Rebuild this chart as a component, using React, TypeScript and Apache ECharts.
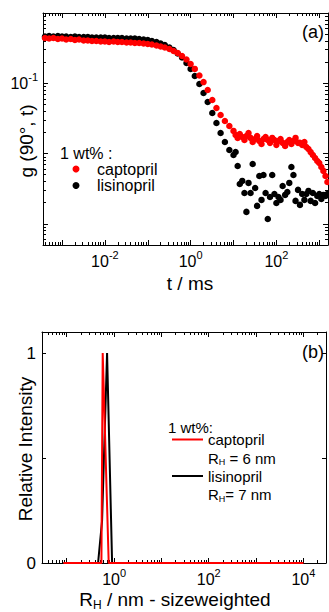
import React, { useEffect, useRef } from "react";
import * as echarts from "echarts";

// ---------- panel (a): correlation functions ----------
const lagTimes = [
  4e-4, 5e-4, 6.3e-4, 8e-4,
  1e-3, 1.25e-3, 1.6e-3, 2e-3, 2.5e-3, 3.2e-3, 4e-3, 5e-3, 6.3e-3, 8e-3,
  0.01, 0.0125, 0.016, 0.02, 0.025, 0.032, 0.04, 0.05, 0.063, 0.08,
  0.1, 0.125, 0.16, 0.2, 0.25, 0.32, 0.4, 0.5, 0.63, 0.8,
  1, 1.25, 1.6, 2, 2.5, 3.2, 4, 5, 6.3, 8,
  10, 11.2, 12.5, 14, 16, 18, 20, 22.4, 25, 28,
  32, 35.5, 40, 45, 50, 56, 63, 71, 80, 90,
  100, 112, 125, 140, 160, 180, 200, 224, 250, 280,
  320, 355, 400, 450, 500, 560, 630, 710, 800, 900,
  1000, 1120, 1250, 1400, 1550,
];
const gCaptopril = [
  0.441, 0.434, 0.441, 0.427,
  0.434, 0.42, 0.427, 0.413, 0.42, 0.406, 0.406, 0.4, 0.4, 0.393,
  0.393, 0.387, 0.393, 0.387, 0.387, 0.38, 0.38, 0.374, 0.374, 0.368,
  0.362, 0.356, 0.345, 0.334, 0.323, 0.3075, 0.288, 0.27, 0.2445, 0.218,
  0.188, 0.16, 0.129, 0.104, 0.0803, 0.0579, 0.0445, 0.0354, 0.0291, 0.0247,
  0.021, 0.0184, 0.0167, 0.019, 0.0172, 0.0156, 0.0178, 0.0196, 0.0167, 0.0146,
  0.0161, 0.0178, 0.0151, 0.0137, 0.0161, 0.0172, 0.0156, 0.0142, 0.0167, 0.0156,
  0.0133, 0.0151, 0.0161, 0.0142, 0.0128, 0.0146, 0.0156, 0.0137, 0.0151, 0.0167,
  0.0142, 0.0142, 0.0133, 0.0146, 0.0124, 0.0116, 0.0105, 0.00955, 0.00866, 0.00785,
  0.00735, 0.00645, 0.00566, 0.0048, 0.00394,
];
const gLisinopril = [
  0.463, 0.471, 0.463, 0.471,
  0.463, 0.463, 0.456, 0.463, 0.456, 0.456, 0.456, 0.448, 0.448, 0.448,
  0.448, 0.441, 0.441, 0.441, 0.441, 0.434, 0.434, 0.434, 0.427, 0.42,
  0.413, 0.4, 0.387, 0.368, 0.351, 0.323, 0.298, 0.265, 0.233, 0.194,
  0.16, 0.127, 0.0977, 0.0728, 0.0542, 0.0378, 0.0272, 0.0196, 0.0146, 0.01125,
  0.00955, 0.01054, 0.00666, 0.00369, 0.00408, 0.00275, 0.00148, 0.00382, 0.00275, 0.00711,
  0.00324, 0.0018, 0.0048, 0.00219, 0.00496, 0.00275, 0.00117, 0.00241, 0.00496, 0.00266,
  0.00198, 0.00241, 0.00219, 0.00346, 0.00258, 0.00284, 0.00382, 0.00645, 0.00496, 0.00212,
  0.00304, 0.00186, 0.00266, 0.00219, 0.00266, 0.00294, 0.00212, 0.00275, 0.00198, 0.00249,
  0.00266, 0.00226, 0.00258, 0.00249, 0.00266,
];
const tRange = [3.6e-4, 1600];
const gRange = [5e-4, 1];
const tLabelExponents = [-2, 0, 2];
const gLabelExponents = [-1];

// ---------- panel (b): size distributions ----------
const radiusCaptopril = [0.085, 0.54, 0.575, 0.77, 10000];
const intensityCaptopril = [0, 0, 1, 0, 0];
const radiusLisinopril = [0.085, 0.459, 0.557, 0.711, 0.908, 10000];
const intensityLisinopril = [0, 0, 0.2, 1, 0, 0];
const rRange = [0.03, 30000];
const iRange = [0, 1.1];
const rLabelExponents = [0, 2, 4];
const iTickValues = [0, 0.5, 1];
const iLabelValues = [0, 1];

const FONT = "'Liberation Sans', Arial, sans-serif";
const RED = "#ff0000";
const BLACK = "#000000";

function majorLogs(lo: number, hi: number) {
  const out: number[] = [];
  for (let n = Math.ceil(lo - 1e-9); n <= Math.floor(hi + 1e-9); n++) out.push(n);
  return out;
}
function minorLogs(lo: number, hi: number) {
  const out: number[] = [];
  for (let n = Math.floor(lo) - 1; n <= Math.ceil(hi); n++) {
    for (let k = 2; k <= 9; k++) {
      const v = n + Math.log10(k);
      if (v > lo && v < hi) out.push(v);
    }
  }
  return out;
}

const supRich = {
  b: { fontSize: 16, lineHeight: 24, verticalAlign: "middle", fontFamily: FONT, color: BLACK },
  s: { fontSize: 11, verticalAlign: "top", fontFamily: FONT, color: BLACK },
};
const supFormatter = (v: number) => `{b|10}{s|${Math.round(v)}}`;

function tickAxis(o: {
  gridIndex: number;
  position: string;
  min: number;
  max: number;
  ticks: number[];
  length: number;
  line?: boolean;
  labels?: number[];
  formatter?: any;
  rich?: any;
  margin?: number;
  fontSize?: number;
}) {
  return {
    type: "value",
    gridIndex: o.gridIndex,
    position: o.position,
    min: o.min,
    max: o.max,
    axisLine: { show: !!o.line, onZero: false, lineStyle: { color: BLACK, width: 1 } },
    axisTick: {
      show: true,
      inside: true,
      length: o.length,
      customValues: o.ticks,
      lineStyle: { color: BLACK, width: 1 },
    },
    axisLabel: o.labels
      ? {
          show: true,
          customValues: o.labels,
          formatter: o.formatter,
          rich: o.rich,
          margin: o.margin ?? 5,
          color: BLACK,
          fontSize: o.fontSize ?? 16,
          fontFamily: FONT,
        }
      : { show: false },
    splitLine: { show: false },
    minorTick: { show: false },
  };
}

export default function App() {
  const ref = useRef<HTMLDivElement>(null);

  useEffect(() => {
    if (!ref.current) return;
    const chart = echarts.init(ref.current, undefined, { renderer: "svg" });

    const ta = [Math.log10(tRange[0]), Math.log10(tRange[1])];
    const ga = [Math.log10(gRange[0]), Math.log10(gRange[1])];
    const rb = [Math.log10(rRange[0]), Math.log10(rRange[1])];

    const gridA = { left: 43, top: 13, width: 285, height: 232 };
    const gridB = { left: 42, top: 332, width: 284, height: 231 };

    const xAxis: any[] = [
      // 0: data axis A
      { type: "log", gridIndex: 0, min: tRange[0], max: tRange[1], show: false, logBase: 10 },
      tickAxis({ gridIndex: 0, position: "bottom", min: ta[0], max: ta[1], ticks: majorLogs(ta[0], ta[1]), length: 5, line: true, labels: tLabelExponents, formatter: supFormatter, rich: supRich, margin: 4 }),
      tickAxis({ gridIndex: 0, position: "bottom", min: ta[0], max: ta[1], ticks: minorLogs(ta[0], ta[1]), length: 3 }),
      tickAxis({ gridIndex: 0, position: "top", min: ta[0], max: ta[1], ticks: majorLogs(ta[0], ta[1]), length: 5, line: true }),
      tickAxis({ gridIndex: 0, position: "top", min: ta[0], max: ta[1], ticks: minorLogs(ta[0], ta[1]), length: 3 }),
      // 5: data axis B
      { type: "log", gridIndex: 1, min: rRange[0], max: rRange[1], show: false, logBase: 10 },
      tickAxis({ gridIndex: 1, position: "bottom", min: rb[0], max: rb[1], ticks: majorLogs(rb[0], rb[1]), length: 5, line: true, labels: rLabelExponents, formatter: supFormatter, rich: supRich, margin: 4 }),
      tickAxis({ gridIndex: 1, position: "bottom", min: rb[0], max: rb[1], ticks: minorLogs(rb[0], rb[1]), length: 3 }),
      tickAxis({ gridIndex: 1, position: "top", min: rb[0], max: rb[1], ticks: majorLogs(rb[0], rb[1]), length: 5, line: true }),
      tickAxis({ gridIndex: 1, position: "top", min: rb[0], max: rb[1], ticks: minorLogs(rb[0], rb[1]), length: 3 }),
    ];

    const yAxis: any[] = [
      // 0: data axis A
      { type: "log", gridIndex: 0, min: gRange[0], max: gRange[1], show: false, logBase: 10 },
      tickAxis({ gridIndex: 0, position: "left", min: ga[0], max: ga[1], ticks: majorLogs(ga[0], ga[1]), length: 5, line: true, labels: gLabelExponents, formatter: supFormatter, rich: supRich, margin: 5 }),
      tickAxis({ gridIndex: 0, position: "left", min: ga[0], max: ga[1], ticks: minorLogs(ga[0], ga[1]), length: 3 }),
      tickAxis({ gridIndex: 0, position: "right", min: ga[0], max: ga[1], ticks: majorLogs(ga[0], ga[1]), length: 5, line: true }),
      tickAxis({ gridIndex: 0, position: "right", min: ga[0], max: ga[1], ticks: minorLogs(ga[0], ga[1]), length: 3 }),
      // 5: data axis B (linear, visible)
      tickAxis({ gridIndex: 1, position: "left", min: iRange[0], max: iRange[1], ticks: iTickValues, length: 4, line: true, labels: iLabelValues, formatter: (v: number) => String(v), margin: 6, fontSize: 17 }),
      tickAxis({ gridIndex: 1, position: "right", min: iRange[0], max: iRange[1], ticks: iTickValues, length: 4, line: true }),
    ];

    const scatterA = (name: string, g: number[], color: string) => ({
      name,
      type: "scatter",
      xAxisIndex: 0,
      yAxisIndex: 0,
      symbol: "circle",
      symbolSize: 6.5,
      itemStyle: { color, opacity: 1 },
      data: lagTimes.map((t, i) => [t, g[i]]),
    });
    const lineB = (name: string, r: number[], inten: number[], color: string) => ({
      name,
      type: "line",
      xAxisIndex: 5,
      yAxisIndex: 5,
      symbol: "none",
      showSymbol: false,
      lineStyle: { color, width: 2 },
      itemStyle: { color },
      data: r.map((v, i) => [v, inten[i]]),
    });

    const txt = (x: number, y: number, text: string, fontSize: number, extra: any = {}) => ({
      type: "text",
      x,
      y,
      ...extra,
      style: {
        text,
        fontSize,
        fontFamily: FONT,
        fill: BLACK,
        align: extra.align ?? "left",
        verticalAlign: "middle",
        lineHeight: fontSize + 1,
        ...(extra.style || {}),
      },
    });

    const subRich = (size: number, lh: number) => ({
      r: { fontSize: size, fontFamily: FONT, fill: BLACK, lineHeight: lh, verticalAlign: "middle" },
      h: { fontSize: Math.round(size * 0.62), fontFamily: FONT, fill: BLACK, verticalAlign: "bottom" },
    });

    const option: any = {
      animation: false,
      textStyle: { fontFamily: FONT },
      grid: [
        { ...gridA, containLabel: false },
        { ...gridB, containLabel: false },
      ],
      xAxis,
      yAxis,
      series: [
        scatterA("lisinopril", gLisinopril, BLACK),
        scatterA("captopril", gCaptopril, RED),
        lineB("lisinopril size distribution", radiusLisinopril, intensityLisinopril, BLACK),
        lineB("captopril size distribution", radiusCaptopril, intensityCaptopril, RED),
      ],
      graphic: [
        txt(313, 32, "(a)", 18, { align: "center" }),
        txt(313, 352, "(b)", 18, { align: "center" }),
        txt(190, 283, "t / ms", 19, { align: "center" }),
        txt(26, 141, "g (90°, t)", 19, { align: "center", rotation: Math.PI / 2 }),
        txt(25.5, 449, "Relative Intensity", 19, { align: "center", rotation: Math.PI / 2 }),
        {
          type: "text",
          x: 175,
          y: 599,
          style: {
            text: "{r|R}{h|H}{r| / nm - sizeweighted}",
            rich: subRich(19, 24),
            align: "center",
            verticalAlign: "middle",
            fontFamily: FONT,
          },
        },
        // legend (a)
        txt(60, 153, "1 wt% :", 16),
        { type: "circle", shape: { cx: 76, cy: 169, r: 3.5 }, style: { fill: RED } },
        txt(97, 169, "captopril", 16),
        { type: "circle", shape: { cx: 76, cy: 185.5, r: 3.5 }, style: { fill: BLACK } },
        txt(97, 185.5, "lisinopril", 16),
        // legend (b)
        txt(168, 427, "1 wt%:", 15),
        { type: "line", shape: { x1: 172, y1: 439.5, x2: 203, y2: 439.5 }, style: { stroke: RED, lineWidth: 2 } },
        txt(208, 439.5, "captopril", 15),
        {
          type: "text",
          x: 208,
          y: 458,
          style: { text: "{r|R}{h|H}{r| = 6 nm}", rich: subRich(15, 17), align: "left", verticalAlign: "middle", fontFamily: FONT },
        },
        { type: "line", shape: { x1: 172, y1: 476, x2: 203, y2: 476 }, style: { stroke: BLACK, lineWidth: 2 } },
        txt(208, 476, "lisinopril", 15),
        {
          type: "text",
          x: 208,
          y: 494.5,
          style: { text: "{r|R}{h|H}{r|= 7 nm}", rich: subRich(15, 17), align: "left", verticalAlign: "middle", fontFamily: FONT },
        },
      ],
    };

    chart.setOption(option);
    return () => chart.dispose();
  }, []);

  return (
    <div
      ref={ref}
      style={{ position: "fixed", left: 0, top: 0, width: 329, height: 612, background: "#fff" }}
    />
  );
}
